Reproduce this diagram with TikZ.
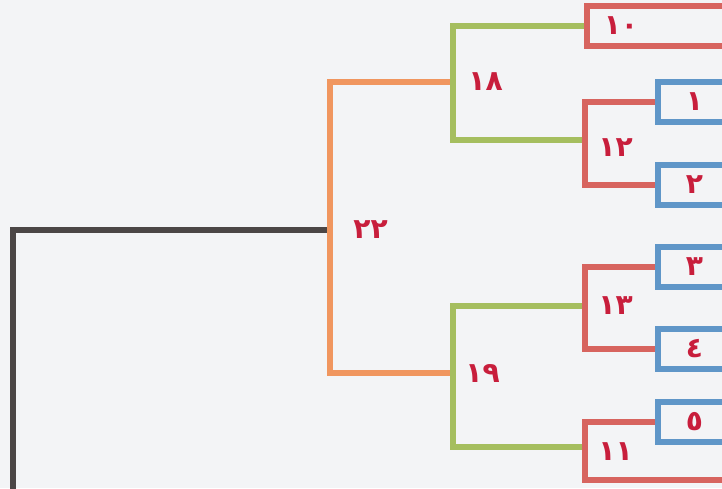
\documentclass[tikz,border=0pt]{standalone}
\usepackage{fontspec}
\newfontfamily\arabicfont[Script=Arabic]{DejaVu Sans}
\usetikzlibrary{positioning}
\definecolor{paper}{RGB}{243,244,246}
\definecolor{rootgray}{RGB}{75,70,70}
\definecolor{orangeline}{RGB}{240,150,95}
\definecolor{greenline}{RGB}{165,190,95}
\definecolor{redline}{RGB}{215,100,95}
\definecolor{blueline}{RGB}{95,150,200}
\definecolor{digitred}{RGB}{200,30,60}

\begin{document}
\begin{tikzpicture}[
  x=0.02cm, y=-0.02cm,
  link/.style={line width=0.11cm},
  num/.style={font=\arabicfont\fontsize{16}{18}\selectfont\bfseries, text=digitred, inner sep=0pt},
  leafbox/.style={draw, link, anchor=west, minimum height=0.8cm, align=left, num},
  redleaf/.style={leafbox, draw=redline, text width=3cm, inner xsep=0.34cm},
  blueleaf/.style={leafbox, draw=blueline, text width=1.6cm, inner xsep=0.56cm},
]
\useasboundingbox (0,0) rectangle (722,488);
\fill[paper] (0,0) rectangle (722,488);
\clip (0,0) rectangle (722,488);

% Junctions
\coordinate (root) at (13,495);
\coordinate (j22) at (330,230);
\coordinate (j18) at (453,82);
\coordinate (j19) at (453,373);
\coordinate (j12) at (585,140);
\coordinate (j13) at (585,306);
\coordinate (j11) at (585,447);
\coordinate (e11) at (740,480);

% Leaves
\node[redleaf] (b10) at (584,26) {١٠};
\node[blueleaf] (b1) at (655,102) {١};
\node[blueleaf] (b2) at (655,185) {٢};
\node[blueleaf] (b3) at (655,267) {٣};
\node[blueleaf] (b4) at (655,349) {٤};
\node[blueleaf] (b5) at (655,422) {٥};

% Match labels
\node[num, right=0.46cm of j22] (l22) {٢٢};
\node[num, right=0.3cm of j18] (l18) {١٨};
\node[num, right=0.24cm of j19] (l19) {١٩};
\node[num, right=0.26cm of j12, yshift=-0.16cm] (l12) {١٢};
\node[num, right=0.26cm of j13] (l13) {١٣};
\node[num, right=0.26cm of j11, yshift=-0.1cm] (l11) {١١};

% Brackets
\draw[link, rootgray] (root) |- (j22);
\foreach \j in {j18,j19}
  \draw[link, orangeline] (j22) |- (\j);
\foreach \a/\b in {j18/b10.west, j18/j12, j19/j13, j19/j11}
  \draw[link, greenline] (\a) |- (\b);
\foreach \a/\b in {j12/b1.west, j12/b2.west, j13/b3.west, j13/b4.west, j11/b5.west, j11/e11}
  \draw[link, redline] (\a) |- (\b);
\end{tikzpicture}
\end{document}
